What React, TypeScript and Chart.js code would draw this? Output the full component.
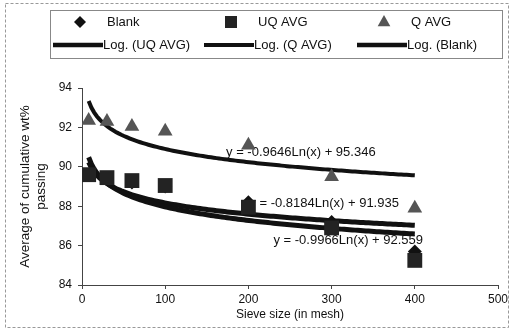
import React, { useEffect, useRef } from 'react';
import { Chart, registerables } from 'chart.js';

Chart.register(...registerables);

// ---- data ----
const SIEVE_MESH = [8, 30, 60, 100, 200, 300, 400];
const BLANK = [89.6, 89.4, 89.2, 89.0, 88.2, 87.2, 85.7];
const UQ_AVG = [89.6, 89.45, 89.3, 89.05, 87.95, 86.9, 85.25];
const Q_AVG = [92.35, 92.3, 92.05, 91.8, 91.1, 89.5, 87.9];

// logarithmic trendlines y = a*Ln(x) + b, as printed on the chart
const TREND_NAMES = ['Log. (UQ AVG)', 'Log. (Q AVG)', 'Log. (Blank)'];
const TREND_A = [-0.9966, -0.9646, -0.8184];
const TREND_B = [92.559, 95.346, 91.935];

const X_TICKS = [0, 100, 200, 300, 400, 500];
const Y_TICKS = [84, 86, 88, 90, 92, 94];

const FONT = '"Liberation Sans", Arial, sans-serif';

function trendPoints(a: number, b: number) {
  const x0 = Math.min(...SIEVE_MESH);
  const x1 = Math.max(...SIEVE_MESH);
  const pts: { x: number; y: number }[] = [];
  const n = 120;
  for (let i = 0; i <= n; i++) {
    const x = x0 + ((x1 - x0) * i) / n;
    pts.push({ x, y: a * Math.log(x) + b });
  }
  return pts;
}

function eqText(a: number, b: number) {
  return `y = ${a.toFixed(4)}Ln(x) + ${b.toFixed(3)}`;
}

function drawMarker(ctx: CanvasRenderingContext2D, style: string, x: number, y: number, r: number, color: string) {
  ctx.fillStyle = color;
  ctx.beginPath();
  if (style === 'rectRot') {
    ctx.moveTo(x, y - r);
    ctx.lineTo(x + r, y);
    ctx.lineTo(x, y + r);
    ctx.lineTo(x - r, y);
  } else if (style === 'rect') {
    ctx.rect(x - r, y - r, 2 * r, 2 * r);
  } else {
    ctx.moveTo(x, y - r);
    ctx.lineTo(x + r * 0.9, y + r * 0.6);
    ctx.lineTo(x - r * 0.9, y + r * 0.6);
  }
  ctx.closePath();
  ctx.fill();
}

const framePlugin = {
  id: 'frame',
  beforeDraw(chart: any) {
    const ctx = chart.ctx;
    ctx.save();
    ctx.fillStyle = '#fff';
    ctx.fillRect(0, 0, chart.width, chart.height);
    ctx.strokeStyle = '#999';
    ctx.lineWidth = 1;
    ctx.setLineDash([3, 2]);
    ctx.strokeRect(5.5, 3.5, 503, 324);
    ctx.restore();
  },
};

const eqPlugin = {
  id: 'equations',
  beforeDatasetsDraw(chart: any) {
    const ctx = chart.ctx;
    const xs = chart.scales.x;
    const ys = chart.scales.y;
    // label anchors (data coords) for UQ, Q, Blank trend equations
    const ax = [320, 263, 291];
    const ay = [86.28, 90.75, 88.16];
    ctx.save();
    ctx.font = `13px ${FONT}`;
    ctx.fillStyle = '#111';
    ctx.textAlign = 'center';
    ctx.textBaseline = 'middle';
    for (let i = 0; i < TREND_A.length; i++) {
      ctx.fillText(eqText(TREND_A[i], TREND_B[i]), xs.getPixelForValue(ax[i]), ys.getPixelForValue(ay[i]));
    }
    ctx.restore();
  },
};

const legendPlugin = {
  id: 'boxLegend',
  afterDraw(chart: any) {
    const ctx = chart.ctx;
    ctx.save();
    ctx.strokeStyle = '#888';
    ctx.lineWidth = 1;
    ctx.setLineDash([]);
    ctx.strokeRect(50.5, 10.5, 452, 48);
    const cols = [53, 204, 357];
    ctx.font = `13px ${FONT}`;
    ctx.textBaseline = 'middle';
    ctx.textAlign = 'left';
    const dsets = chart.data.datasets;
    const markers = dsets.filter((d: any) => !d.showLine);
    const order = ['Blank', 'UQ AVG', 'Q AVG'];
    order.forEach((lab, i) => {
      const d = markers.find((m: any) => m.label === lab);
      const r = d.pointStyle === 'rect' ? 6 : d.pointStyle === 'rectRot' ? 6 : 7;
      drawMarker(ctx, d.pointStyle, cols[i] + 27, 22, r, d.backgroundColor);
      ctx.fillStyle = '#111';
      ctx.fillText(lab, cols[i] + 54, 22);
    });
    TREND_NAMES.forEach((lab, i) => {
      const d = dsets.find((m: any) => m.label === lab);
      ctx.strokeStyle = '#111';
      ctx.lineWidth = Math.min(d.borderWidth, 4.5);
      ctx.beginPath();
      ctx.moveTo(cols[i], 45);
      ctx.lineTo(cols[i] + 50, 45);
      ctx.stroke();
      ctx.fillStyle = '#111';
      ctx.fillText(lab, cols[i] + 50, 45);
    });
    ctx.restore();
  },
};

export default function App() {
  const ref = useRef<HTMLCanvasElement | null>(null);

  useEffect(() => {
    if (!ref.current) return;
    const toPts = (ys: number[]) => SIEVE_MESH.map((x, i) => ({ x, y: ys[i] }));
    const trendWidths = [5, 4, 5];
    const chart = new Chart(ref.current, {
      type: 'scatter',
      data: {
        datasets: [
          {
            label: 'Q AVG',
            data: toPts(Q_AVG),
            pointStyle: 'triangle',
            pointRadius: 8.5,
            backgroundColor: '#555',
            borderColor: '#555',
            borderWidth: 0,
            showLine: false,
            order: 0,
          } as any,
          {
            label: 'UQ AVG',
            data: toPts(UQ_AVG),
            pointStyle: 'rect',
            pointRadius: 10.5,
            backgroundColor: '#232323',
            borderColor: '#232323',
            borderWidth: 0,
            showLine: false,
            order: 1,
          },
          {
            label: 'Blank',
            data: toPts(BLANK),
            pointStyle: 'rectRot',
            pointRadius: 7,
            backgroundColor: '#111',
            borderColor: '#111',
            borderWidth: 0,
            showLine: false,
            order: 2,
          },
          ...TREND_NAMES.map((name, i) => ({
            label: name,
            data: trendPoints(TREND_A[i], TREND_B[i]),
            showLine: true,
            pointRadius: 0,
            borderColor: '#111',
            backgroundColor: '#111',
            borderWidth: trendWidths[i],
            tension: 0,
            order: 3 + i,
          })),
        ],
      },
      options: {
        animation: false,
        responsive: false,
        devicePixelRatio: 1,
        layout: { padding: { left: 0, right: 15, top: 88, bottom: 0 } },
        plugins: { legend: { display: false }, tooltip: { enabled: false } },
        font: { family: FONT },
        scales: {
          x: {
            type: 'linear',
            min: X_TICKS[0],
            max: X_TICKS[X_TICKS.length - 1],
            afterBuildTicks: (s: any) => {
              s.ticks = X_TICKS.map((v) => ({ value: v }));
            },
            ticks: { color: '#111', font: { size: 12, family: FONT }, padding: 3, maxRotation: 0 },
            grid: { display: true, drawOnChartArea: false, drawTicks: true, tickLength: 4, color: '#444' },
            border: { display: true, color: '#444', width: 1 },
            title: {
              display: true,
              text: 'Sieve size (in mesh)',
              color: '#111',
              font: { size: 12, family: FONT },
              padding: { top: 0, bottom: 9 },
            },
            afterFit: (s: any) => {
              s.height = 46;
            },
          },
          y: {
            type: 'linear',
            min: Y_TICKS[0],
            max: Y_TICKS[Y_TICKS.length - 1],
            afterBuildTicks: (s: any) => {
              s.ticks = Y_TICKS.map((v) => ({ value: v }));
            },
            ticks: { color: '#111', font: { size: 12, family: FONT }, padding: 6 },
            grid: { display: true, drawOnChartArea: false, drawTicks: true, tickLength: 4, color: '#444' },
            border: { display: true, color: '#444', width: 1 },
            title: {
              display: true,
              text: ['Average of cumulative wt%', 'passing'],
              color: '#111',
              font: { size: 13.5, family: FONT },
              padding: { top: 17, bottom: 0 },
            },
            afterFit: (s: any) => {
              s.width = 82;
            },
          },
        },
      } as any,
      plugins: [framePlugin, eqPlugin, legendPlugin],
    });
    return () => chart.destroy();
  }, []);

  return (
    <div style={{ position: 'fixed', left: 0, top: 0, width: 513, height: 331, background: '#fff' }}>
      <canvas ref={ref} width={513} height={331} style={{ display: 'block' }} />
    </div>
  );
}
